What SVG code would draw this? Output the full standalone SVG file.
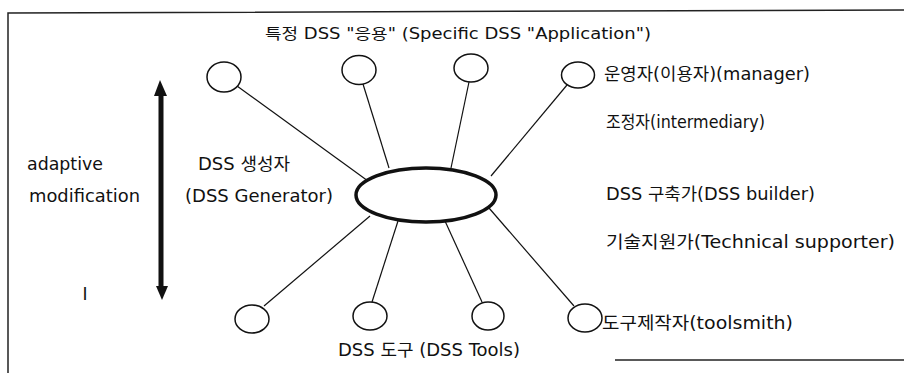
<svg xmlns="http://www.w3.org/2000/svg" width="904" height="373" viewBox="0 0 904 373">
  <style>
    text { font-family: "DejaVu Sans", "Noto Sans CJK KR", sans-serif; font-size: 17px; fill: #111; }
    .title { font-size: 15px; }
    .node { fill: #fff; stroke: #111; stroke-width: 1.5; }
    .hub { fill: #fff; stroke: #111; stroke-width: 3.5; }
    .link { stroke: #111; stroke-width: 1.2; fill: none; }
    .frame { stroke: #222; stroke-width: 1.5; fill: none; }
  </style>

  <rect width="904" height="373" fill="#fff"/>

  <!-- partial frame -->
  <path class="frame" d="M8,373 L8,13 L904,10"/>
  <path class="frame" d="M615,360 L904,360" stroke="#555"/>

  <!-- connectors from the generator to the applications and tools -->
  <g id="connectors">
    <line class="link" x1="237" y1="86" x2="368" y2="181"/>
    <line class="link" x1="363" y1="84" x2="389" y2="168"/>
    <line class="link" x1="469" y1="82" x2="451" y2="168"/>
    <line class="link" x1="567" y1="85" x2="491" y2="176"/>
    <line class="link" x1="264" y1="306" x2="370" y2="216"/>
    <line class="link" x1="372" y1="302" x2="398" y2="221"/>
    <line class="link" x1="482" y1="302" x2="445" y2="221"/>
    <line class="link" x1="574" y1="306" x2="489" y2="208"/>
  </g>

  <!-- central generator -->
  <g id="generator">
    <ellipse class="hub" cx="426" cy="195" rx="70" ry="27"/>
  </g>

  <!-- specific applications (top row) -->
  <g id="app1"><ellipse class="node" cx="224" cy="77" rx="17" ry="15"/></g>
  <g id="app2"><ellipse class="node" cx="359" cy="70" rx="17" ry="14.5"/></g>
  <g id="app3"><ellipse class="node" cx="471" cy="68" rx="17" ry="14"/></g>
  <g id="app4"><ellipse class="node" cx="578" cy="75" rx="16.5" ry="13"/></g>

  <!-- tools (bottom row) -->
  <g id="tool1"><ellipse class="node" cx="252" cy="319" rx="17" ry="14"/></g>
  <g id="tool2"><ellipse class="node" cx="370" cy="316" rx="17" ry="14"/></g>
  <g id="tool3"><ellipse class="node" cx="488" cy="316" rx="16" ry="14"/></g>
  <g id="tool4"><ellipse class="node" cx="585" cy="318" rx="17" ry="14"/></g>

  <!-- adaptive modification axis -->
  <g id="axis">
    <line x1="161" y1="92" x2="161" y2="289" stroke="#111" stroke-width="5"/>
    <polygon points="160,80 154,96 167,96" fill="#111"/>
    <polygon points="162,300 156,286 168,286" fill="#111"/>
  </g>

  <!-- labels -->
  <g id="labels">
    <text class="title" x="265" y="39" textLength="386" lengthAdjust="spacingAndGlyphs">특정 DSS "응용" (Specific DSS "Application")</text>
    <text x="604" y="80" textLength="206" lengthAdjust="spacingAndGlyphs">운영자(이용자)(manager)</text>
    <text x="606" y="128" textLength="159" lengthAdjust="spacingAndGlyphs">조정자(intermediary)</text>
    <text x="606" y="200" textLength="209" lengthAdjust="spacingAndGlyphs">DSS 구축가(DSS builder)</text>
    <text x="606" y="248" textLength="289" lengthAdjust="spacingAndGlyphs">기술지원가(Technical supporter)</text>
    <text x="602" y="329" textLength="191" lengthAdjust="spacingAndGlyphs">도구제작자(toolsmith)</text>
    <text x="338" y="356" textLength="182" lengthAdjust="spacingAndGlyphs">DSS 도구 (DSS Tools)</text>
    <text x="198" y="170" textLength="92" lengthAdjust="spacingAndGlyphs">DSS 생성자</text>
    <text x="185" y="202" textLength="148" lengthAdjust="spacingAndGlyphs">(DSS Generator)</text>
    <text x="27" y="170" textLength="76" lengthAdjust="spacingAndGlyphs">adaptive</text>
    <text x="29" y="202" textLength="111" lengthAdjust="spacingAndGlyphs">modification</text>
    <text x="85" y="300" text-anchor="middle">I</text>
  </g>
</svg>
